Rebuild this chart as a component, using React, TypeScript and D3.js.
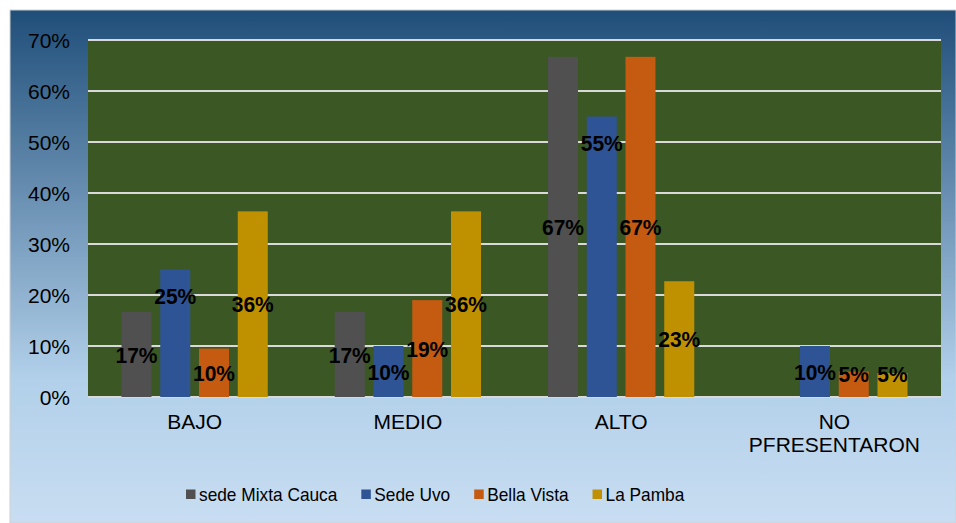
import React from "react";
import * as d3 from "d3";

// data (percent)
const categories = ["BAJO", "MEDIO", "ALTO", "NO PFRESENTARON"];
const categoryLines = [["BAJO"], ["MEDIO"], ["ALTO"], ["NO", "PFRESENTARON"]];
const seriesNames = ["sede Mixta Cauca", "Sede Uvo", "Bella Vista", "La Pamba"];
const mixtaCauca = [16.7, 16.7, 66.7, 0];
const sedeUvo = [25, 10, 55, 10];
const bellaVista = [9.5, 19, 66.7, 5];
const laPamba = [36.4, 36.4, 22.7, 4.7];
// where the data label sits (in value units), null = middle of the bar
const uvoLabelAt = [19.8, null, 49.9, null];
const bellaLabelAt = [null, null, null, 4.5];
const pambaLabelAt = [null, null, null, 4.5];
const mixtaLabelAt = [null, null, null, null];
const yTicks = [0, 10, 20, 30, 40, 50, 60, 70];

const seriesValues = [mixtaCauca, sedeUvo, bellaVista, laPamba];
const seriesLabelAt = [mixtaLabelAt, uvoLabelAt, bellaLabelAt, pambaLabelAt];
const colors = ["#505050", "#2F5496", "#C55A11", "#BF9000"];

const W = 956;
const H = 523;
const plot = { left: 88, right: 941, top: 40, bottom: 397 };
const FONT = "'Liberation Sans', Arial, sans-serif";

const measure = (text: string, font: string) => {
  const ctx = document.createElement("canvas").getContext("2d");
  if (!ctx) return text.length * 9;
  ctx.font = font;
  return ctx.measureText(text).width;
};

export default function App() {
  const x0 = d3.scaleBand().domain(categories).range([plot.left, plot.right]);
  const x1 = d3
    .scaleBand()
    .domain(seriesNames)
    .range([0, x0.bandwidth()])
    .paddingInner(0.225)
    .paddingOuter(0.864);
  const y = d3.scaleLinear().domain([0, 70]).range([plot.bottom, plot.top]);

  // legend layout
  const legendFont = 17.3;
  const sq = 9.5;
  let lx = 186;
  const legendItems = seriesNames.map((name, i) => {
    const item = { name, x: lx, color: colors[i] };
    lx += sq + 3.5 + measure(name, `${legendFont}px 'Liberation Sans'`) + 24;
    return item;
  });

  return (
    <svg
      width={W}
      height={H}
      style={{ position: "absolute", left: 0, top: 0, fontFamily: FONT }}
    >
      <defs>
        <linearGradient id="bg" x1="0" y1="0" x2="0" y2="1">
          <stop offset="0%" stopColor="#1F4E79" />
          <stop offset="72%" stopColor="#B2D0EA" />
          <stop offset="100%" stopColor="#C8DDF1" />
        </linearGradient>
      </defs>
      <rect x={0} y={0} width={W} height={H} fill="#fff" />
      <rect x={10} y={10} width={W - 10} height={H - 10} fill="url(#bg)" stroke="#D0D0D0" strokeWidth={1} />
      <rect
        x={plot.left}
        y={plot.top}
        width={plot.right - plot.left}
        height={plot.bottom - plot.top}
        fill="#3B5724"
      />

      {/* gridlines */}
      {yTicks.map((t) => (
        <line
          key={t}
          x1={plot.left}
          x2={plot.right}
          y1={y(t)}
          y2={y(t)}
          stroke="#D9D9D9"
          strokeWidth={2}
        />
      ))}

      {/* y tick labels */}
      {yTicks.map((t) => (
        <text
          key={t}
          x={70}
          y={y(t)}
          dy="0.36em"
          textAnchor="end"
          fontSize={21}
          fill="#000"
        >
          {t}%
        </text>
      ))}

      {/* bars */}
      {categories.map((c, ci) =>
        seriesNames.map((s, si) => {
          const v = seriesValues[si][ci];
          if (!v) return null;
          return (
            <rect
              key={c + s}
              x={(x0(c) ?? 0) + (x1(s) ?? 0)}
              y={y(v)}
              width={x1.bandwidth()}
              height={plot.bottom - y(v)}
              fill={colors[si]}
            />
          );
        })
      )}

      {/* data labels */}
      {categories.map((c, ci) =>
        seriesNames.map((s, si) => {
          const v = seriesValues[si][ci];
          if (!v) return null;
          const at = seriesLabelAt[si][ci];
          const ly = at == null ? y(v / 2) : y(at);
          const lxc = (x0(c) ?? 0) + (x1(s) ?? 0) + x1.bandwidth() / 2;
          return (
            <text
              key={"l" + c + s}
              transform={`translate(${lxc},${ly}) scale(1,1.07)`}
              dy="0.36em"
              textAnchor="middle"
              fontSize={21}
              fontWeight="bold"
              fill="#000"
            >
              {Math.round(v)}%
            </text>
          );
        })
      )}

      {/* category labels */}
      {categories.map((c, ci) => (
        <text
          key={"c" + c}
          x={(x0(c) ?? 0) + x0.bandwidth() / 2}
          y={421}
          dy="0.36em"
          textAnchor="middle"
          fontSize={21}
          fill="#000"
        >
          {categoryLines[ci].map((line, li) => (
            <tspan key={li} x={(x0(c) ?? 0) + x0.bandwidth() / 2} dy={li === 0 ? "0.36em" : 23}>
              {line}
            </tspan>
          ))}
        </text>
      ))}

      {/* legend */}
      {legendItems.map((it) => (
        <g key={it.name}>
          <rect x={it.x} y={489.5} width={sq} height={sq} fill={it.color} />
          <text
            transform={`translate(${it.x + sq + 3.5},494.5) scale(1,1.1)`}
            dy="0.36em"
            fontSize={legendFont}
            fill="#000"
          >
            {it.name}
          </text>
        </g>
      ))}
    </svg>
  );
}
